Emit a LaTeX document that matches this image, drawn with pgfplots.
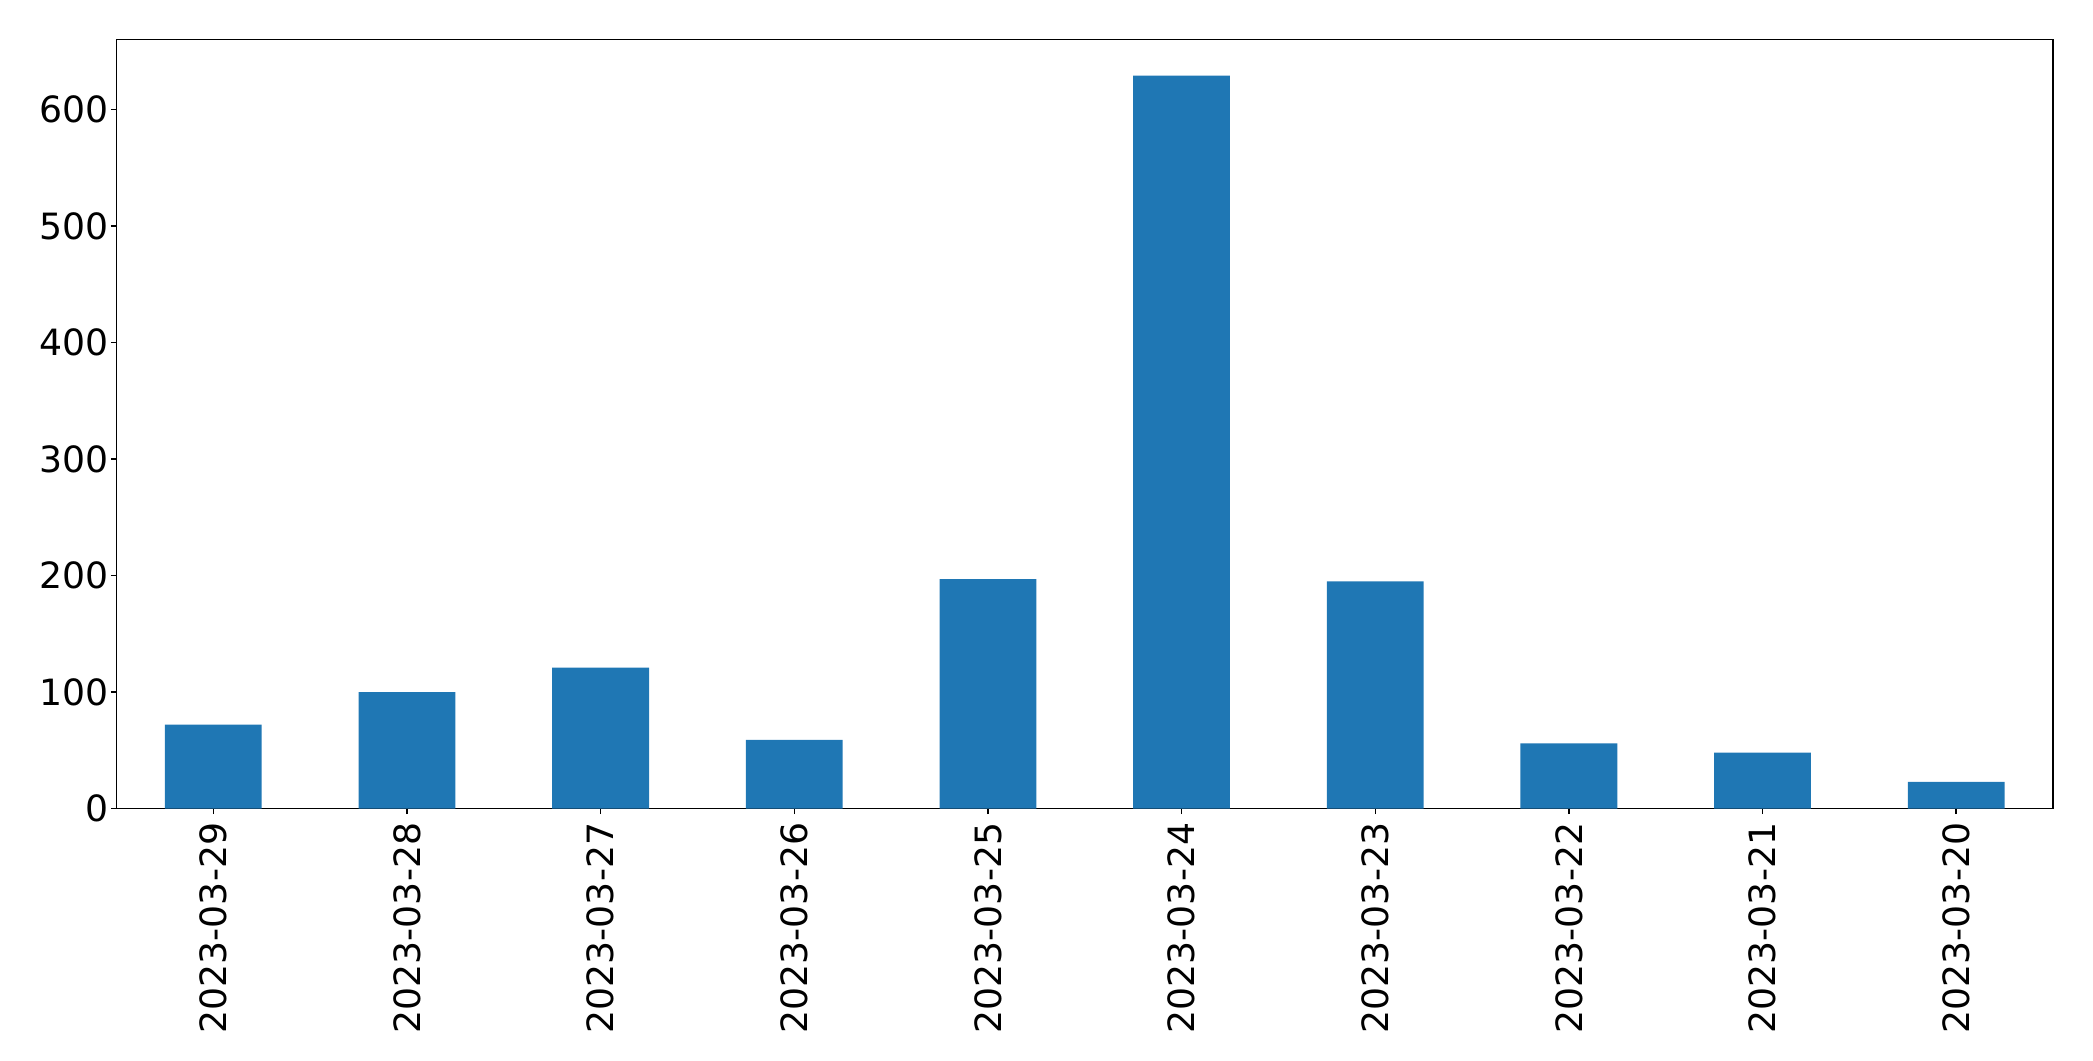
\documentclass[border=0pt]{standalone}
\usepackage{fontspec}
\setmainfont{DejaVu Sans}
\usepackage{pgfplots}
\pgfplotsset{compat=1.18}
\definecolor{mplblue}{HTML}{1F77B4}
\begin{document}
\begin{tikzpicture}
\useasboundingbox (-1.165cm,-2.523cm) rectangle (19.365cm+0.40cm,7.69cm+0.396cm);
\begin{axis}[
  at={(0,0)}, anchor=south west,
  scale only axis,
  width=19.365cm, height=7.69cm,
  xmin=-0.5, xmax=9.5,
  ymin=0, ymax=660,
  xtick={0,...,9},
  xticklabels={2023-03-29,2023-03-28,2023-03-27,2023-03-26,2023-03-25,2023-03-24,2023-03-23,2023-03-22,2023-03-21,2023-03-20},
  ytick={0,100,200,300,400,500,600},
  tick align=outside,
  major tick length=0.055cm,
  xtick pos=bottom, ytick pos=left,
  axis line style={line width=0.4pt},
  tick style={line width=0.4pt, black},
  /pgf/number format/assume math mode=true,
  ticklabel style={font=\fontsize{10.3}{12}\selectfont},
  xticklabel style={yshift=-0.08cm, rotate=90, anchor=east, inner sep=0pt},
  yticklabel style={anchor=east, inner sep=0pt, xshift=-0.02cm},
  scaled y ticks=false,
]
\addplot[ybar, bar width=0.5, fill=mplblue, draw=none, bar shift=0pt] coordinates {
(0,72) (1,100) (2,121) (3,59) (4,197) (5,629) (6,195) (7,56) (8,48) (9,23)
};
\end{axis}
\end{tikzpicture}
\end{document}
